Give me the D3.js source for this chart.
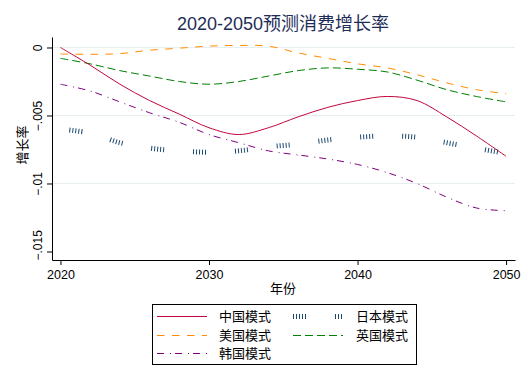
<!DOCTYPE html>
<html lang="zh">
<head>
    <meta charset="UTF-8">
    <title>2020-2050预测消费增长率</title>
    <script src="https://d3js.org/d3.v7.min.js"></script>
    <style>
        body { margin: 0; background: #fff; }
        text { font-family: "Liberation Sans", Arial, "Noto Sans CJK SC", sans-serif; }
    </style>
</head>
<body>
    <svg id="chart" width="528" height="384"></svg>

    <script>
        const years = [2020, 2022, 2024, 2026, 2028, 2030, 2032, 2034, 2036, 2038, 2040, 2042, 2044, 2046, 2048, 2050];
        const china = [0, -0.0013, -0.0027, -0.0039, -0.0049, -0.0059, -0.0064, -0.0059, -0.0051, -0.0044, -0.0039, -0.0036, -0.0039, -0.0051, -0.0065, -0.0080];
        const japan = [-0.0060, -0.0063, -0.0070, -0.0074, -0.0076, -0.0077, -0.0076, -0.0073, -0.0071, -0.0068, -0.0066, -0.0065, -0.0066, -0.0070, -0.0074, -0.0078];
        const usa = [-0.00048, -0.0005, -0.00045, -0.0002, -0.00005, 0.0001, 0.00015, 0.0001, -0.0004, -0.0008, -0.0012, -0.0015, -0.0020, -0.0026, -0.0031, -0.0034];
        const uk = [-0.0008, -0.0012, -0.0017, -0.0021, -0.0025, -0.0027, -0.0025, -0.0021, -0.0017, -0.0015, -0.0016, -0.0018, -0.0024, -0.0031, -0.0036, -0.0040];
        const korea = [-0.0027, -0.0032, -0.0040, -0.0048, -0.0055, -0.0064, -0.0070, -0.0076, -0.0079, -0.0082, -0.0086, -0.0092, -0.0100, -0.0110, -0.0118, -0.0120];
        const yTicks = [0, -0.005, -0.01, -0.015];
        const xTicks = [2020, 2030, 2040, 2050];

        const series = [
            { name: "中国模式", values: china, color: "#c0063c", width: 1, dash: null },
            { name: "日本模式", values: japan, color: "#1a476f", width: 5, dash: "1 2 1 2 1 2 1 2 1 29", offset: 33 },
            { name: "美国模式", values: usa, color: "#ff8c00", width: 1, dash: "7.5 7.5" },
            { name: "英国模式", values: uk, color: "#008000", width: 1, dash: "8 4" },
            { name: "韩国模式", values: korea, color: "#800080", width: 1, dash: "7 6 1 4" }
        ];

        const svg = d3.select("#chart");
        const plotLeft = 52, plotRight = 515, plotTop = 37, plotBottom = 260;

        const x = d3.scaleLinear()
            .domain([2019.43, 2050.6])
            .range([plotLeft, plotRight]);

        const y = d3.scaleLinear()
            .domain([-0.015625, 0.000772])
            .range([plotBottom, plotTop]);

        // gridlines
        svg.append("g")
            .selectAll("line")
            .data(yTicks.filter(d => d > -0.012))
            .enter()
            .append("line")
            .attr("x1", plotLeft)
            .attr("x2", plotRight)
            .attr("y1", d => y(d))
            .attr("y2", d => y(d))
            .attr("stroke", "#e6eeef")
            .attr("stroke-width", 1);

        const yAxis = svg.append("g")
            .attr("transform", `translate(${plotLeft},0)`)
            .call(d3.axisLeft(y).tickValues(yTicks).tickSize(5).tickSizeOuter(0).tickFormat(d => d === 0 ? "0" : d3.format(".3~f")(d).replace("0.", ".")));
        yAxis.select(".domain").attr("stroke", "#000");
        yAxis.selectAll(".tick line").attr("stroke", "#000");
        yAxis.selectAll(".tick text")
            .attr("x", null)
            .attr("dy", null)
            .style("font-size", "12px")
            .attr("fill", "#000")
            .attr("text-anchor", "middle")
            .attr("transform", function (d) {
                const len = this.getComputedTextLength();
                const cy = Math.min(0, (plotBottom - len / 2) - y(d));
                return `translate(-10,${cy})rotate(-90)`;
            });

        const xAxis = svg.append("g")
            .attr("transform", `translate(0,${plotBottom})`)
            .call(d3.axisBottom(x).tickValues(xTicks).tickSize(5).tickSizeOuter(0).tickFormat(d3.format("d")));
        xAxis.select(".domain").attr("stroke", "#000");
        xAxis.selectAll(".tick line").attr("stroke", "#000");
        xAxis.selectAll(".tick text")
            .attr("y", 19)
            .attr("dy", null)
            .attr("fill", "#000")
            .style("font-size", "12.5px");

        const line = d3.line()
            .x((d, i) => x(years[i]))
            .y(d => y(d))
            .curve(d3.curveCatmullRom.alpha(0.5));

        // draw order: uk/usa/korea under, china on top
        const drawOrder = [2, 3, 4, 1, 0];
        drawOrder.forEach(k => {
            const s = series[k];
            svg.append("path")
                .attr("d", line(s.values))
                .attr("fill", "none")
                .attr("stroke", s.color)
                .attr("stroke-width", s.width)
                .attr("stroke-dasharray", s.dash)
                .attr("stroke-dashoffset", s.offset || 0);
        });

        svg.append("text")
            .attr("x", 283)
            .attr("y", 30)
            .attr("text-anchor", "middle")
            .style("font-size", "18px")
            .attr("fill", "#1e2d57")
            .text("2020-2050预测消费增长率");

        svg.append("text")
            .attr("text-anchor", "middle")
            .attr("transform", `translate(27,145)rotate(-90)`)
            .style("font-size", "13px")
            .text("增长率");

        svg.append("text")
            .attr("x", 283)
            .attr("y", 293)
            .attr("text-anchor", "middle")
            .style("font-size", "13px")
            .text("年份");

        // legend
        const legend = svg.append("g");
        legend.append("rect")
            .attr("x", 152.5)
            .attr("y", 304.5)
            .attr("width", 264)
            .attr("height", 60)
            .attr("fill", "#fff")
            .attr("stroke", "#000");

        const slots = [[157, 219, 316.5], [293, 356, 316.5], [157, 219, 335.5], [293, 356, 335.5], [157, 219, 353.5]];
        series.forEach((s, i) => {
            const [lx, tx, ly] = slots[i];
            legend.append("line")
                .attr("x1", lx)
                .attr("x2", lx + 50)
                .attr("y1", ly)
                .attr("y2", ly)
                .attr("stroke", s.color)
                .attr("stroke-width", s.width)
                .attr("stroke-dasharray", s.dash);
            legend.append("text")
                .attr("x", tx)
                .attr("y", ly)
                .attr("dy", "0.35em")
                .style("font-size", "13px")
                .text(s.name);
        });
    </script>
</body>
</html>
